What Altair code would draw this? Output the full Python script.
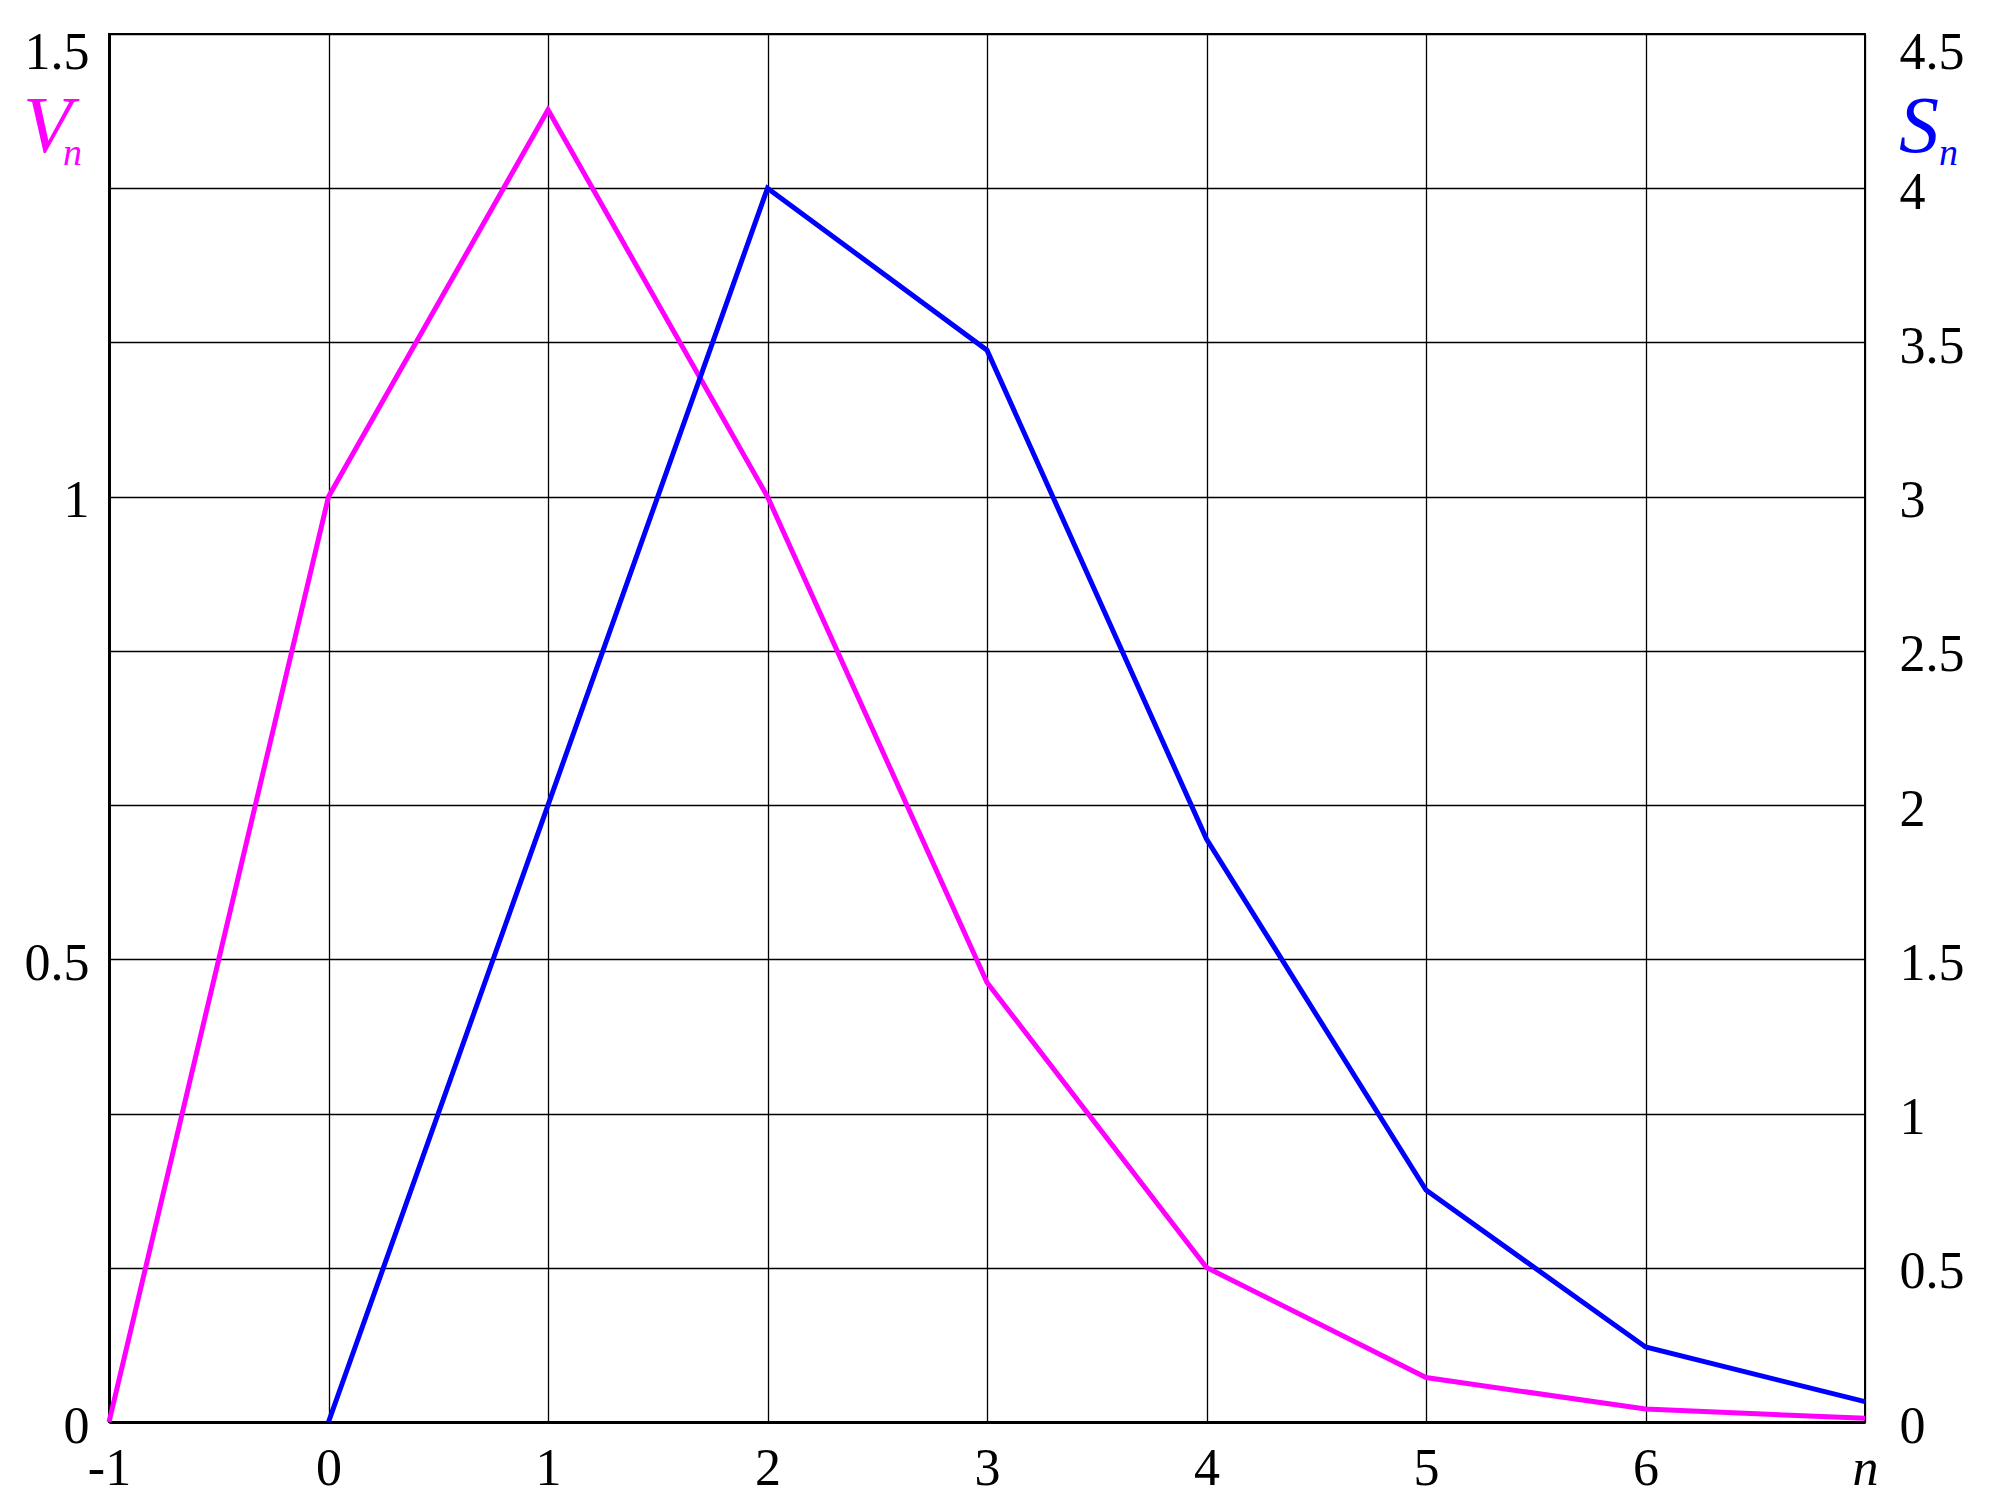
import altair as alt
import pandas as pd

# ---- data ----
n_v = [-1, 0, 1, 2, 3, 4, 5, 6, 7]
V = [0.0, 1.0, 1.418, 1.0, 0.475, 0.167, 0.048, 0.014, 0.004]

n_s = [0, 1, 2, 3, 4, 5, 6, 7]
S = [0.0, 2.0, 4.0, 3.475, 1.89, 0.752, 0.243, 0.066]

x_ticks = [-1, 0, 1, 2, 3, 4, 5, 6, 7]
v_ticks = [0, 0.5, 1, 1.5]
s_ticks = [0, 0.5, 1, 1.5, 2, 2.5, 3, 3.5, 4, 4.5]

v_label = ["V"]
s_label = ["S"]
sub_label = ["n"]

FONT = "Liberation Serif"
FS = 52
W, H = 1756, 1388
MAGENTA = "#FF00FF"
BLUE = "#0000FF"

dv = pd.DataFrame({"n": n_v, "V": V})
ds = pd.DataFrame({"n": n_s, "S": S})

x_enc = alt.X(
    "n:Q",
    scale=alt.Scale(domain=[-1, 7], nice=False, zero=False),
    axis=alt.Axis(
        values=x_ticks, grid=True, gridColor="black", gridWidth=1.3, gridOpacity=1,
        domainColor="black", domainWidth=3, ticks=False,
        labelFont=FONT, labelFontSize=FS, labelColor="black", labelPadding=21,
        labelFlush=False, labelOverlap=False,
        labelExpr="datum.value == 7 ? 'n' : '' + datum.value",
        labelFontStyle={"condition": {"test": "datum.value == 7", "value": "italic"}, "value": "normal"},
        title=None,
    ),
)

line_v = alt.Chart(dv).mark_line(color=MAGENTA, strokeWidth=5, clip=False).encode(
    x=x_enc,
    y=alt.Y(
        "V:Q",
        scale=alt.Scale(domain=[0, 1.5], nice=False),
        axis=alt.Axis(
            orient="left", values=v_ticks, grid=False, ticks=False,
            domainColor="black", domainWidth=3,
            labelFont=FONT, labelFontSize=FS, labelColor="black", labelPadding=20,
            labelFlush=False, labelOverlap=False, labelBaseline="middle",
            labelExpr="'' + datum.value",
            labelOffset={"condition": {"test": "datum.value == 1.5", "value": 18}, "value": 4},
            title=None,
        ),
    ),
)

line_s = alt.Chart(ds).mark_line(color=BLUE, strokeWidth=5, clip=False).encode(
    x=alt.X("n:Q", scale=alt.Scale(domain=[-1, 7], nice=False, zero=False)),
    y=alt.Y(
        "S:Q",
        scale=alt.Scale(domain=[0, 4.5], nice=False),
        axis=alt.Axis(
            orient="right", values=s_ticks, grid=True, gridColor="black", gridWidth=1.3,
            gridOpacity=1, ticks=False, domain=False,
            labelFont=FONT, labelFontSize=FS, labelColor="black", labelPadding=34,
            labelFlush=False, labelOverlap=False, labelBaseline="middle",
            labelExpr="'' + datum.value",
            labelOffset={"condition": {"test": "datum.value == 4.5", "value": 18}, "value": 4},
            title=None,
        ),
    ),
)

def txt(s, size, color, x, y):
    return alt.Chart(pd.DataFrame({"t": s})).mark_text(
        font=FONT, fontSize=size, fontStyle="italic", color=color,
        align="left", baseline="alphabetic",
    ).encode(text="t:N", x=alt.value(x), y=alt.value(y))

labels = [
    txt(v_label, 80, MAGENTA, -86, 118),
    txt(sub_label, 38, MAGENTA, -46, 131),
    txt(s_label, 80, BLUE, 1790, 118),
    txt(sub_label, 38, BLUE, 1830, 131),
]

chart = alt.layer(line_v, line_s, *labels).resolve_scale(y="independent").properties(
    width=W, height=H,
    autosize=alt.AutoSizeParams(type="none"),
    padding={"left": 101, "top": 26, "right": 110, "bottom": 77},
    background="white",
).configure_view(stroke="black", strokeWidth=2)

chart.save("out.html", embed_options={"renderer": "svg", "actions": False})
